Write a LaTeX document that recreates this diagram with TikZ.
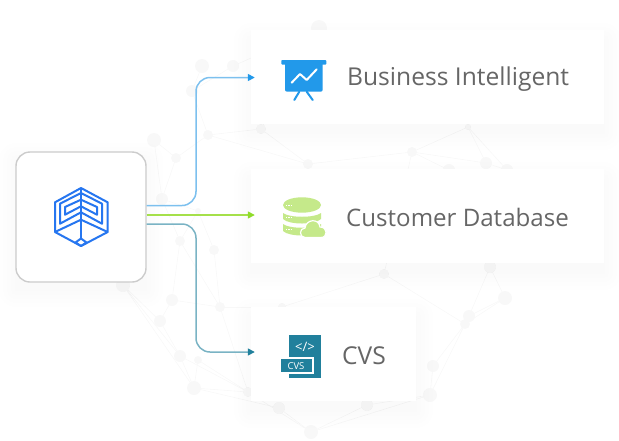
\documentclass[tikz,border=0pt]{standalone}
\usepackage{fontspec}
\setmainfont{Open Sans}
\usetikzlibrary{calc, positioning}
\usetikzlibrary{arrows.meta}
\definecolor{netgray}{HTML}{F8F8F8}
\definecolor{labelgray}{HTML}{666666}
\definecolor{hubblue}{HTML}{2676F0}
\definecolor{chartblue}{HTML}{2299EA}
\definecolor{chartline}{HTML}{7CC0EE}
\definecolor{dbgreen}{HTML}{C5E98A}
\definecolor{dbline}{HTML}{A5E04A}
\definecolor{dbtip}{HTML}{8FDC2A}
\definecolor{cvsteal}{HTML}{21809C}
\definecolor{cvsline}{HTML}{7AB3C4}
\tikzset{
  netdot/.style={fill=netgray},
  netline/.style={draw=netgray,line width=0.6pt},
  card/.style={fill=white,inner sep=0pt,minimum height=94pt},
  hubbox/.style={draw=black!20,line width=1.4pt,fill=white,rounded corners=14pt,inner sep=0pt,minimum size=130pt},
  cardlabel/.style={text=labelgray,font=\fontsize{24.6}{28}\selectfont,anchor=base west,inner sep=0pt},
  link/.style={line width=1.5pt,rounded corners=14pt},
  hubicon/.style={draw=hubblue,line width=2pt,line join=round},
}
% soft shadow: x1, y1, x2, y2, drop
\newcommand{\softshadow}[5]{
  \foreach \g in {1,5,9,13,17}
    \fill[black,opacity=0.003,rounded corners=\g pt] (#1-\g,#2-\g+#5) rectangle (#3+\g,#4+\g+#5);
}
\begin{document}
\begin{tikzpicture}[x=1pt,y=-1pt]
\useasboundingbox (0,0) rectangle (619,440);

% network in the background
\foreach \name/\xx/\yy/\rr in {a/202/66/7,b/233/66/6,c/192/91/6,d/208/135/5,e/261/129/5,f/154/140/7,
  g/176/158/5,h/162/199/6,i/198/211/3,j/180/241/5,k/214/250/5,l/172/300/6,m/160/321/6,n/220/307/5,
  o/180/356/6,p/198/360/4,q/194/388/7,r/248/392/5,s/123/285/7,t/308/164/5,u/412/152/5,v/468/127/3,
  w/449/170/6,x/486/163/6,y/507/170/6,z/384/274/5,aa/490/267/6,ab/505/298/7,ac/469/316/6,ad/465/324/5,
  ae/433/366/6,af/430/395/7,ag/279/408/6,ah/367/405/6,ai/311/432/7,aj/319/28/8,ak/282/307/4}
  \fill[netdot] (\xx,\yy) coordinate (\name) circle (\rr);
\foreach \from/\to in {a/c,b/c,c/d,f/g,f/h,g/h,g/d,d/t,e/d,e/t,t/u,u/v,u/x,v/x,v/y,x/y,w/u,x/aa,aa/ab,
  ab/ac,ac/ad,ad/z,aa/ac,ad/ae,ad/af,ae/af,af/ai,ai/ag,ai/ah,ah/af,ag/q,r/q,r/p,r/o,r/n,n/k,n/j,n/l,
  k/i,j/h,j/l,l/m,m/s,s/o,m/o,o/q,p/q,s/q,h/i,i/j,z/ak,z/u,ak/n,e/aj,b/aj,ab/ad,r/ai}
  \draw[netline] (\from)--(\to);

% shadows
\softshadow{251}{30}{604}{123}{10}
\softshadow{251}{169}{604}{263}{10}
\softshadow{251}{306}{416}{401}{10}
\softshadow{16}{152}{146}{282}{8}

% boxes
\node[card,minimum width=353pt] (bi) at (427.5,76.5) {};
\node[card,minimum width=353pt] (db) at (427.5,216) {};
\node[card,minimum width=165pt] (cvs) at (333.5,353.5) {};
\node[hubbox] (hub) at (81,217) {};

% links
\coordinate (biend) at ($(bi.west)+(4,1)$);
\coordinate (dbend) at ($(db.west)+(4,-1)$);
\coordinate (cvsend) at ($(cvs.west)+(4,-1.5)$);
\draw[link,draw=chartline,-{Triangle[length=7pt,width=7pt,color=chartblue]}]
  ($(hub.east)+(0,-11.5)$)--(196,205.5)--(196,77.5)--(biend);
\draw[link,draw=dbline,-{Triangle[length=7pt,width=7pt,color=dbtip]}]
  ($(hub.east)+(0,-2)$)--(dbend);
\draw[link,draw=cvsline,-{Triangle[length=7pt,width=7pt,color=cvsteal]}]
  ($(hub.east)+(0,7)$)--(196,224)--(196,352)--(cvsend);

% hub icon
\draw[hubicon] (81,188)--(107.7,202.3)--(107.7,232)--(81,246)--(55,232)--(55,202.3)--cycle;
\draw[hubicon] (81,188)--(81,238.5);
\draw[hubicon] (55,232)--(81,219.7)--(107.7,232);
\draw[hubicon] (81,193)--(60,203.7)--(60,223.7)--(81,212.3)--(102,223.7)--(102,203.7)--cycle;
\draw[hubicon] (81,199.7)--(65,207)--(65,214.7)--(81,206.3)--(97,214.7)--(97,207)--cycle;
\draw[hubicon] (81,238.5)--(75.5,242.5)--(81,246)--(86.5,242.5)--cycle;

% chart icon
\fill[chartblue,rounded corners=0.8pt] (281.3,60) rectangle (326.3,64.5);
\fill[chartblue,rounded corners=2pt] (285,62) rectangle (322.7,91.7);
\draw[chartblue,line width=2pt,line cap=round] (299.3,91.7)--(294.3,100);
\draw[chartblue,line width=2pt,line cap=round] (306.7,91.7)--(312.7,100);
\draw[white,line width=2pt,line cap=round,line join=round] (291.7,82.7)--(300,74)--(306.7,80)--(316.7,69.3);

% database icon
\fill[dbgreen] (302,205) ellipse (19 and 7.7);
\fill[dbgreen] (283,213) .. controls (289,218) and (315,218) .. (321,213)--(321,219) .. controls (315,225) and (289,225) .. (283,219)--cycle;
\fill[dbgreen] (283,224) .. controls (289,229) and (315,229) .. (321,224)--(321,231) .. controls (315,237) and (289,237) .. (283,231)--cycle;
\foreach \yy in {205.7,217.7,229.3}
  \draw[white,line width=1pt,dash pattern=on 1.2pt off 1.2pt] (286,\yy)--(292,\yy);
\fill[dbgreen,draw=white,line width=1.2pt] (305,237.5) .. controls (299,237.5) and (299,228) .. (305,228)
  .. controls (306,219) and (319,218) .. (320,227) .. controls (328,227) and (328,237.5) .. (321,237.5)--cycle;

% cvs icon
\fill[cvsteal] (289,334.7) rectangle (321.3,378.3);
\fill[white] (281,357.3) rectangle (314,374);
\fill[cvsteal] (281,359) rectangle (312.3,372.3);
\node[text=white,font=\fontsize{13}{14}\selectfont,inner sep=0pt] (tagcode) at (305,346.7) {</>};
\node[text=white,font=\fontsize{9.5}{10}\selectfont,inner sep=0pt] (tagcvs) at (296,366) {CVS};

% labels
\node[cardlabel] (bilabel) at (347,85) {Business Intelligent};
\node[cardlabel,font=\fontsize{24.1}{28}\selectfont] (dblabel) at (346,226) {Customer Database};
\node[cardlabel] (cvslabel) at (342,364) {CVS};
\end{tikzpicture}
\end{document}
